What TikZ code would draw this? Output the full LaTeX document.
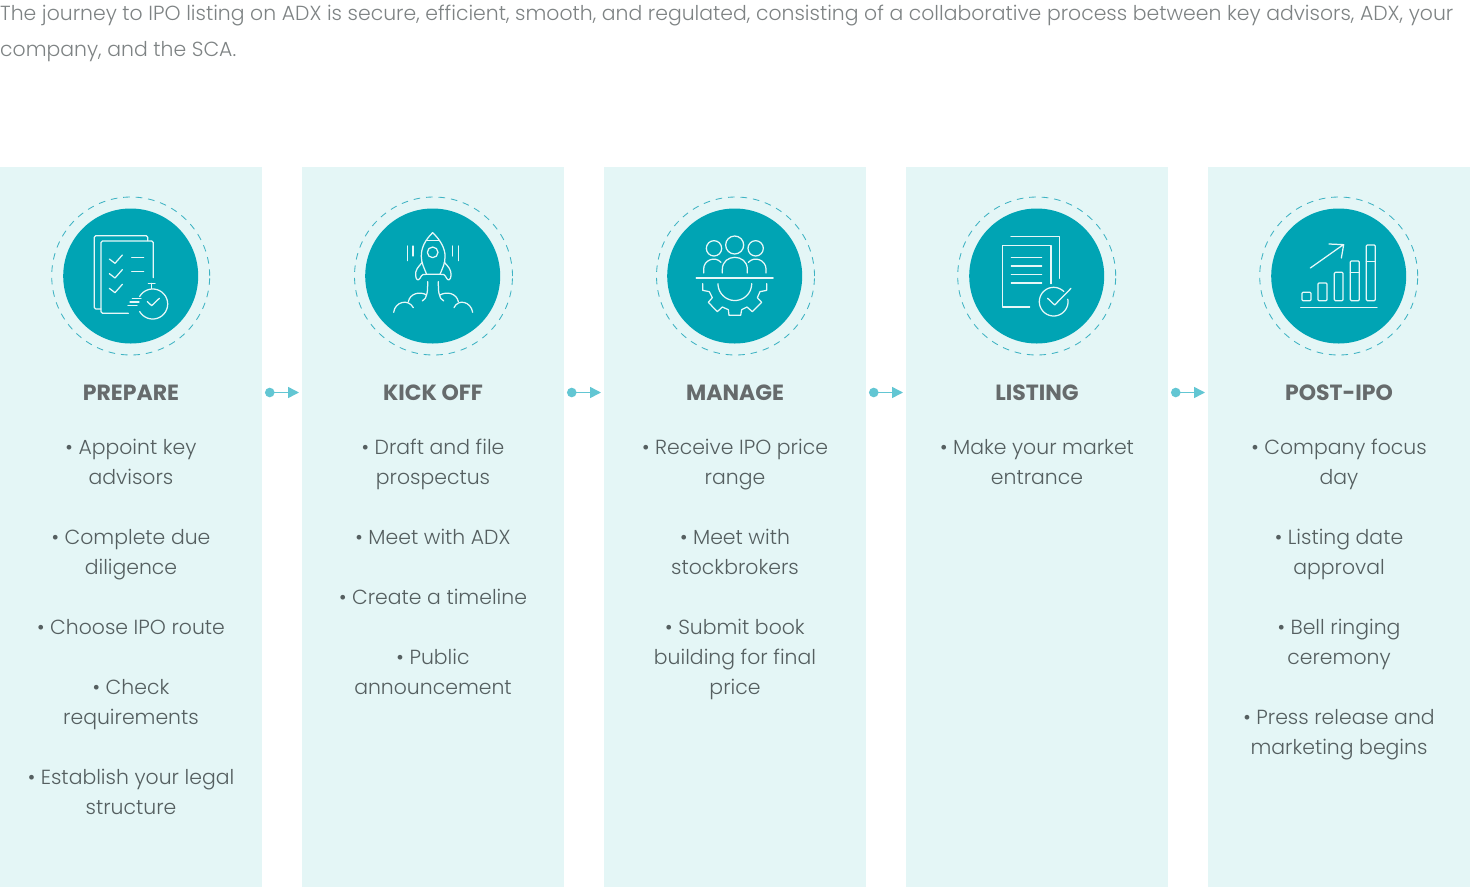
\documentclass[tikz,border=0pt]{standalone}
\usepackage{fontspec}
\setmainfont{Poppins}
\newfontfamily\lightfont{Poppins Light}
\usetikzlibrary{arrows.meta}
\definecolor{panelc}{HTML}{E4F6F6}
\definecolor{discc}{HTML}{00A4B4}
\definecolor{dashc}{HTML}{3FB3C3}
\definecolor{arrowc}{HTML}{62C6D3}
\definecolor{bodyc}{HTML}{555F60}
\definecolor{introc}{HTML}{7E8384}
\definecolor{titlec}{HTML}{666B6C}
\definecolor{glyphc}{HTML}{E6F7F8}
\tikzset{
  panel/.style={fill=panelc,draw=none,minimum width=262pt,minimum height=720pt,inner sep=0pt,outer sep=0pt,anchor=north west},
  disc/.style={circle,fill=discc,draw=none,minimum size=135pt,inner sep=0pt},
  ring/.style={circle,draw=dashc,line width=0.85pt,dash pattern=on 6.6pt off 5.9pt,minimum size=158pt,inner sep=0pt},
  steptitle/.style={font=\fontsize{22}{26}\selectfont\bfseries,text=titlec,anchor=center,inner sep=0pt},
  stepbody/.style={font=\lightfont\fontsize{20.4}{30}\selectfont,text=bodyc,align=center,anchor=north,inner sep=0pt},
  intro/.style={font=\lightfont\fontsize{20.4}{36}\selectfont,text=introc,align=left,anchor=north west,inner sep=0pt},
  flow/.style={draw=arrowc,line width=1.5pt,shorten <=3pt,shorten >=3pt,{Circle[length=9.5pt,fill=arrowc]}-{Triangle[length=11pt,width=11pt,fill=arrowc]}},
  glyph/.style={draw=glyphc,line width=1.25pt,line cap=round,line join=round},
  glyphheavy/.style={glyph,line width=1.6pt},
  icon/.style={shift={#1},scale=1/3},
}
\newcommand{\arcplot}[5]{plot[domain=#4:#5,samples=60,smooth] ({#1+#3*cos(\x)},{#2+#3*sin(\x)})}
\newcommand{\stepdeck}[5]{%
  \node[panel] (p#1) at (#2,167) {};
  \node[ring] (r#1) at (#2+130.7+#5,276) {};
  \node[disc] (d#1) at (#2+130.7,276) {};
  \node[steptitle] (t#1) at (#2+131,392.5) {#3};
  \node[stepbody] (b#1) at (#2+131,432.4) {\rule{0pt}{22pt}#4};
}
\begin{document}
\begin{tikzpicture}[x=1pt,y=-1pt]
\useasboundingbox (0,0) rectangle (1470,887);
\node[intro] (head) at (0,5) {The journey to IPO listing on ADX is secure, efficient, smooth, and regulated, consisting of a collaborative process between key advisors, ADX, your\\company, and the SCA.};
\stepdeck{1}{0}{PREPARE}{• Appoint key\\advisors\\[30pt]• Complete due\\diligence\\[30pt]• Choose IPO route\\[30pt]• Check\\requirements\\[30pt]• Establish your legal\\structure}{0}
\stepdeck{2}{302}{KICK OFF}{• Draft and file\\prospectus\\[30pt]• Meet with ADX\\[30pt]• Create a timeline\\[30pt]• Public\\announcement}{0.8}
\stepdeck{3}{604}{MANAGE}{• Receive IPO price\\range\\[30pt]• Meet with\\stockbrokers\\[30pt]• Submit book\\building for final\\price}{0.8}
\stepdeck{4}{906}{LISTING}{• Make your market\\entrance}{0}
\stepdeck{5}{1208}{POST-IPO}{• Company focus\\day\\[30pt]• Listing date\\approval\\[30pt]• Bell ringing\\ceremony\\[30pt]• Press release and\\marketing begins}{0}
\foreach \a/\b in {1/2,2/3,3/4,4/5}
  \draw[flow] (p\a.east |- t\a.center) -- (p\b.west |- t\b.center);
% icon 1
\begin{scope}[icon={(40,185)}]
\draw[glyph,rounded corners=1.5pt] (183,372) -- (163,372) -- (163,152) -- (323,152) -- (323,167);
\draw[glyph,rounded corners=1.5pt] (265,385) -- (183,385) -- (183,168) -- (340,168) -- (340,278);
\foreach \d in {0,44,88} \draw[glyph] (208,222+\d) -- (225,235+\d) -- (247,210+\d);
\draw[glyph] (275,218) -- (311,218) (275,260) -- (311,260);
\draw[glyph] (325,295) -- (345,295) (335,295) -- (335,311);
\draw[glyph] \arcplot{338}{357}{45}{210}{510};
\draw[glyph] (277,341) -- (303,341) (270,351) -- (297,351) (264,362) -- (291,362);
\draw[glyph] (322,350) -- (335,362) -- (358,340);
\end{scope}
% icon 2
\begin{scope}[icon={(345,185)}]
\draw[glyph] (263,143) .. controls (240,165) and (228,190) .. (229,215) .. controls (229,235) and (238,250) .. (245,268) -- (285,268) .. controls (292,250) and (301,235) .. (300,215) .. controls (301,190) and (286,165) .. (263,143);
\draw[glyph] (245,167) -- (281,167);
\draw[glyph] (263,202) circle[radius=16];
\draw[glyph] (232,232) .. controls (220,245) and (210,255) .. (212,272) .. controls (213,285) and (220,288) .. (225,280) .. controls (230,268) and (238,265) .. (245,268);
\draw[glyph] (298,232) .. controls (310,245) and (320,255) .. (318,272) .. controls (317,285) and (310,288) .. (305,280) .. controls (300,268) and (292,265) .. (285,268);
\draw[glyph] (255,268) -- (272,268);
\draw[glyph] (187,183) -- (187,227) (204,183) -- (204,213) (323,183) -- (323,213) (340,183) -- (340,227);
\draw[glyph] (248,290) .. controls (248,315) and (248,340) .. (232,348);
\draw[glyph] (280,290) .. controls (280,315) and (280,340) .. (296,348);
\draw[glyph] (146,382) .. controls (150,350) and (190,340) .. (205,368);
\draw[glyph] (190,350) .. controls (195,325) and (225,318) .. (245,330);
\draw[glyph] (383,382) .. controls (378,350) and (340,340) .. (327,368);
\draw[glyph] (340,350) .. controls (335,325) and (305,318) .. (285,330);
\end{scope}
% icon 3
\begin{scope}[icon={(645,185)}]
\draw[glyph] (207,190) circle[radius=23] (269,180) circle[radius=27] (332,190) circle[radius=23];
\draw[glyph] (232,264) -- (232,253) .. controls (232,205) and (307,205) .. (307,253) -- (307,264);
\draw[glyph] (176,264) -- (176,252) .. controls (176,225) and (210,212) .. (228,232);
\draw[glyph] (363,264) -- (363,252) .. controls (363,225) and (328,212) .. (310,232);
\draw[glyphheavy] (154,279) -- (384,279);
\draw[glyph] \arcplot{269.5}{296}{50.5}{0}{180};
\draw[glyph] (173,296) -- (173,316) -- (193,320) -- (202,338) -- (190,352) -- (217,380) -- (232,366) -- (250,374) -- (252,391) -- (287,391) -- (290,374) -- (306,366) -- (322,380) -- (350,352) -- (337,338) -- (345,320) -- (365,316) -- (365,296);
\end{scope}
% icon 4
\begin{scope}[icon={(947,185)}]
\draw[glyph] (192,155) -- (338,155) -- (338,280);
\draw[glyph] (248,366) -- (166,366) -- (166,182) -- (312,182) -- (312,296);
\foreach \yy in {217,243,268,294} \draw[glyph] (193,\yy) -- (284,\yy);
\draw[glyph] \arcplot{320}{350}{43}{350}{675};
\draw[glyph] (302,340) -- (323,360) -- (372,310);
\end{scope}
% icon 5
\begin{scope}[icon={(1249,185)}]
\draw[glyph] (184,249) -- (283,179) (240,177) -- (284,179) -- (277,219);
\draw[glyph,rounded corners=1pt] (159,322) rectangle (186,347);
\draw[glyph,rounded corners=1pt] (207,294) rectangle (234,347);
\draw[glyph,rounded corners=1pt] (256,262) rectangle (282,347);
\draw[glyph,rounded corners=1pt] (304,228) rectangle (331,347);
\draw[glyph,rounded corners=1pt] (352,180) rectangle (379,347);
\draw[glyph] (304,262) -- (331,262) (352,229) -- (379,229);
\draw[glyph] (155,368) -- (384,368);
\end{scope}
\end{tikzpicture}
\end{document}
